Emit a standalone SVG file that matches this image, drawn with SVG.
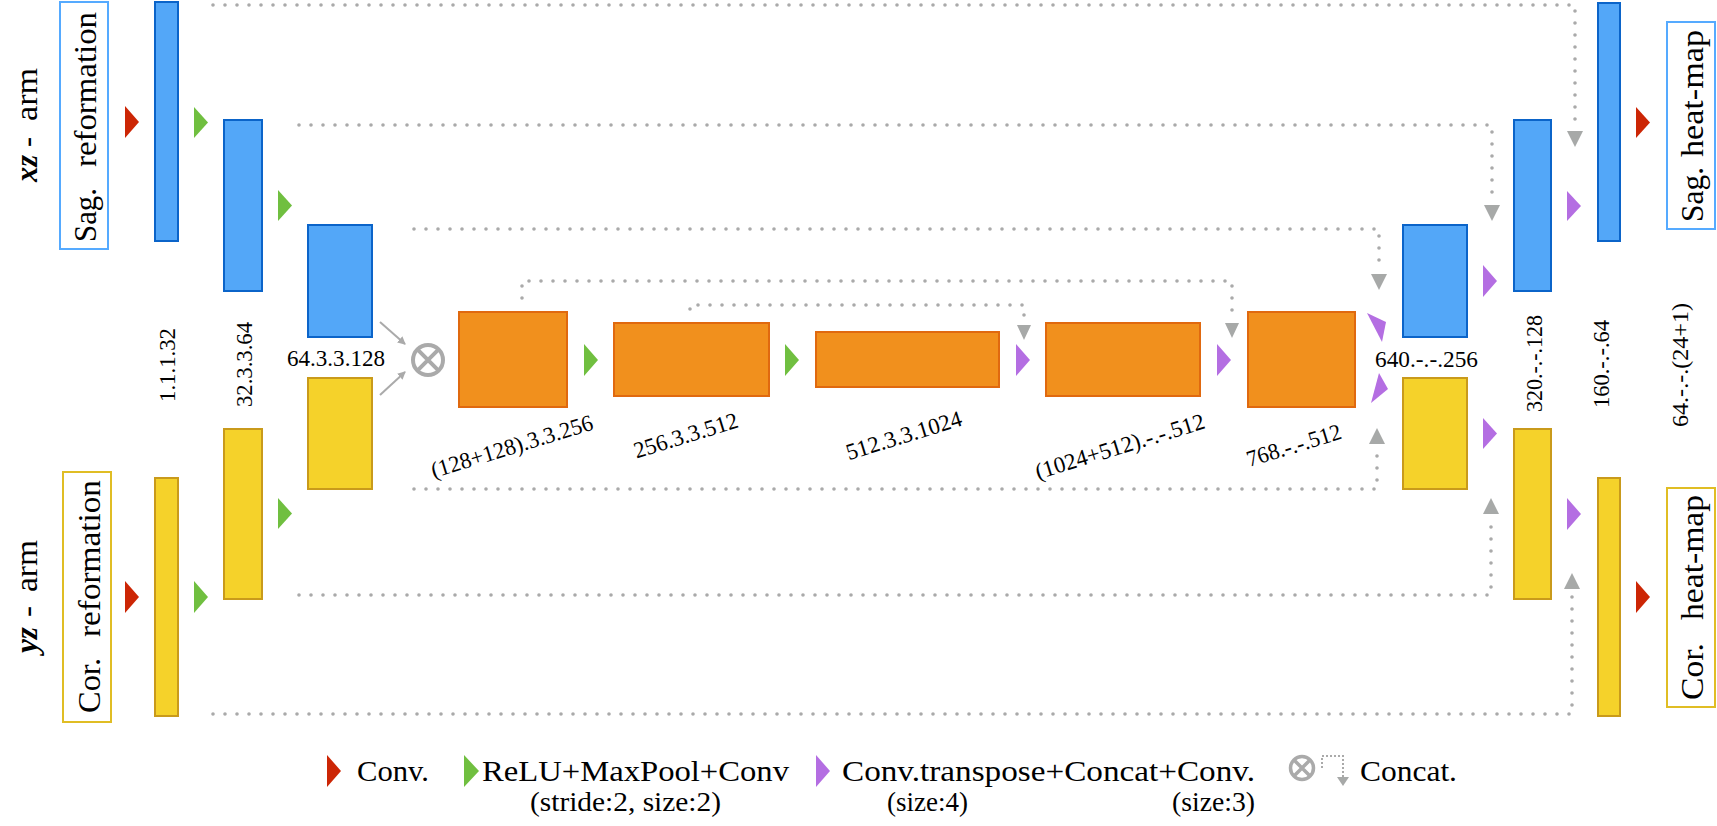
<svg xmlns="http://www.w3.org/2000/svg" width="1717" height="826" viewBox="0 0 1717 826">
<defs>
<style>
text{font-family:"Liberation Serif","DejaVu Serif",serif;fill:#000}
.sm{font-size:23px}
.lg{font-size:30.5px}
.lgd{font-size:30px}
.sub{font-size:27px}
.blue{fill:#53a7f8;stroke:#0b64c9;stroke-width:2}
.yel{fill:#f5d22a;stroke:#c99a1b;stroke-width:2}
.org{fill:#f1901d;stroke:#e0690f;stroke-width:2}
.red{fill:#cc2605}
.grn{fill:#70bf40}
.pur{fill:#b46ee2}
.dot{fill:none;stroke:#aaaaaa;stroke-width:3.6;stroke-linecap:round;stroke-dasharray:0 12}
.ah{fill:#a7a9a8}
.thin{fill:none;stroke:#aaaaaa;stroke-width:2}
</style>
<marker id="sa" markerWidth="8" markerHeight="8" refX="7" refY="4" orient="auto" markerUnits="userSpaceOnUse">
<path d="M0,0 L8,4 L0,8 z" fill="#aaaaaa"/>
</marker>
</defs>
<rect width="1717" height="826" fill="#fff"/>

<g id="connectors">
<path class="dot" d="M213,5 H1575 V127"/>
<polygon class="ah" points="1567,131 1583,131 1575,147"/>
<path class="dot" d="M299,125 H1492 V201"/>
<polygon class="ah" points="1484,205 1500,205 1492,221"/>
<path class="dot" d="M414,229 H1379 V270"/>
<polygon class="ah" points="1371,274 1387,274 1379,290"/>
<path class="dot" d="M522,298 V281 H1232 V318"/>
<polygon class="ah" points="1225,323 1239,323 1232,338"/>
<path class="dot" d="M690,309 V305 H1024 V321"/>
<polygon class="ah" points="1017,325 1031,325 1024,340"/>
<path class="dot" d="M414,489 H1377 V448"/>
<polygon class="ah" points="1369,444 1385,444 1377,428"/>
<path class="dot" d="M299,595 H1491 V518"/>
<polygon class="ah" points="1483,514 1499,514 1491,498"/>
<path class="dot" d="M213,714 H1572 V593"/>
<polygon class="ah" points="1564,589 1580,589 1572,573"/>
<line class="thin" x1="380" y1="322" x2="405" y2="344" marker-end="url(#sa)"/>
<line class="thin" x1="380" y1="395" x2="405" y2="372" marker-end="url(#sa)"/>
</g>

<g id="flow-arrows">
<polygon class="red" points="125,106 139,122 125,138"/>
<polygon class="grn" points="194,107 208,122.5 194,138"/>
<polygon class="grn" points="278,190 292,205.5 278,221"/>
<polygon class="red" points="125,581 139,597 125,613"/>
<polygon class="grn" points="194,581 208,597 194,613"/>
<polygon class="grn" points="278,498 292,513.5 278,529"/>
<polygon class="grn" points="584,344 598,360 584,376"/>
<polygon class="grn" points="785,344 799,360 785,376"/>
<polygon class="pur" points="1016,344 1030,360 1016,376"/>
<polygon class="pur" points="1217,344 1231,360 1217,376"/>
<polygon class="pur" points="1367,313 1386,322 1382,342"/>
<polygon class="pur" points="1371,403 1379,373 1388,389"/>
<polygon class="pur" points="1483,265 1497,281 1483,297"/>
<polygon class="pur" points="1567,191 1581,206 1567,221"/>
<polygon class="red" points="1636,107 1650,122.5 1636,138"/>
<polygon class="pur" points="1483,418 1497,433.5 1483,449"/>
<polygon class="pur" points="1567,498 1581,514 1567,530"/>
<polygon class="red" points="1636,581 1650,597 1636,613"/>
</g>

<g id="input-xz">
<rect x="60" y="2" width="48" height="247" fill="none" stroke="#55aaff" stroke-width="2"/>
<text class="lg" transform="translate(96,242) rotate(-90)" textLength="54" lengthAdjust="spacingAndGlyphs">Sag.</text>
<text class="lg" transform="translate(96,167) rotate(-90)" textLength="155" lengthAdjust="spacingAndGlyphs">reformation</text>
<text class="lg" transform="translate(37,182) rotate(-90)" textLength="27" lengthAdjust="spacingAndGlyphs" font-weight="bold" font-style="italic">xz</text>
<text class="lg" transform="translate(37,147) rotate(-90)" textLength="10" lengthAdjust="spacingAndGlyphs">-</text>
<text class="lg" transform="translate(37,121) rotate(-90)" textLength="53" lengthAdjust="spacingAndGlyphs">arm</text>
</g>

<g id="input-yz">
<rect x="63" y="472" width="48" height="250" fill="none" stroke="#e0bd24" stroke-width="2"/>
<text class="lg" transform="translate(100,713) rotate(-90)" textLength="55" lengthAdjust="spacingAndGlyphs">Cor.</text>
<text class="lg" transform="translate(100,637) rotate(-90)" textLength="157" lengthAdjust="spacingAndGlyphs">reformation</text>
<text class="lg" transform="translate(37,653) rotate(-90)" textLength="26" lengthAdjust="spacingAndGlyphs" font-weight="bold" font-style="italic">yz</text>
<text class="lg" transform="translate(37,617) rotate(-90)" textLength="11" lengthAdjust="spacingAndGlyphs">-</text>
<text class="lg" transform="translate(37,592) rotate(-90)" textLength="52" lengthAdjust="spacingAndGlyphs">arm</text>
</g>

<g id="enc-xz-1"><rect class="blue" x="155" y="2" width="23" height="239"/></g>
<g id="enc-xz-2"><rect class="blue" x="224" y="120" width="38" height="171"/></g>
<g id="enc-xz-3"><rect class="blue" x="308" y="225" width="64" height="112"/></g>
<g id="enc-yz-1"><rect class="yel" x="155" y="478" width="23" height="238"/></g>
<g id="enc-yz-2"><rect class="yel" x="224" y="429" width="38" height="170"/></g>
<g id="enc-yz-3"><rect class="yel" x="308" y="378" width="64" height="111"/></g>

<g id="enc-labels">
<text class="sm" transform="translate(175,402) rotate(-90)" textLength="74" lengthAdjust="spacingAndGlyphs">1.1.1.32</text>
<text class="sm" transform="translate(252,407) rotate(-90)" textLength="85" lengthAdjust="spacingAndGlyphs">32.3.3.64</text>
<text class="sm" x="287" y="366" textLength="98" lengthAdjust="spacingAndGlyphs">64.3.3.128</text>
</g>

<g id="concat-node">
<circle cx="428" cy="360" r="15" fill="none" stroke="#aaaaaa" stroke-width="4"/>
<path d="M417.4,349.4 L438.6,370.6 M438.6,349.4 L417.4,370.6" stroke="#aaaaaa" stroke-width="4" fill="none"/>
</g>

<g id="mid-1"><rect class="org" x="459" y="312" width="108" height="95"/>
<text class="sm" transform="translate(512,447) rotate(-17)" x="-84" y="7" textLength="168" lengthAdjust="spacingAndGlyphs">(128+128).3.3.256</text></g>
<g id="mid-2"><rect class="org" x="614" y="323" width="155" height="73"/>
<text class="sm" transform="translate(686,436) rotate(-17)" x="-54" y="7" textLength="108" lengthAdjust="spacingAndGlyphs">256.3.3.512</text></g>
<g id="mid-3"><rect class="org" x="816" y="332" width="183" height="55"/>
<text class="sm" transform="translate(904,436) rotate(-17)" x="-60" y="7" textLength="120" lengthAdjust="spacingAndGlyphs">512.3.3.1024</text></g>
<g id="mid-4"><rect class="org" x="1046" y="323" width="154" height="73"/>
<text class="sm" transform="translate(1120,447) rotate(-17)" x="-88" y="7" textLength="176" lengthAdjust="spacingAndGlyphs">(1024+512).-.-.512</text></g>
<g id="mid-5"><rect class="org" x="1248" y="312" width="107" height="95"/>
<text class="sm" transform="translate(1294,446) rotate(-17)" x="-49" y="7" textLength="98" lengthAdjust="spacingAndGlyphs">768.-.-.512</text></g>

<g id="dec-xz-3"><rect class="blue" x="1403" y="225" width="64" height="112"/></g>
<g id="dec-xz-2"><rect class="blue" x="1514" y="120" width="37" height="171"/></g>
<g id="dec-xz-1"><rect class="blue" x="1598" y="3" width="22" height="238"/></g>
<g id="dec-yz-3"><rect class="yel" x="1403" y="378" width="64" height="111"/></g>
<g id="dec-yz-2"><rect class="yel" x="1514" y="429" width="37" height="170"/></g>
<g id="dec-yz-1"><rect class="yel" x="1598" y="478" width="22" height="238"/></g>

<g id="dec-labels">
<text class="sm" x="1375" y="367" textLength="103" lengthAdjust="spacingAndGlyphs">640.-.-.256</text>
<text class="sm" transform="translate(1542,412) rotate(-90)" textLength="97" lengthAdjust="spacingAndGlyphs">320.-.-.128</text>
<text class="sm" transform="translate(1609,408) rotate(-90)" textLength="88" lengthAdjust="spacingAndGlyphs">160.-.-.64</text>
<text class="sm" transform="translate(1688,427) rotate(-90)" textLength="124" lengthAdjust="spacingAndGlyphs">64.-.-.(24+1)</text>
</g>

<g id="output-xz">
<rect x="1667" y="22" width="48" height="207" fill="none" stroke="#55aaff" stroke-width="2"/>
<text class="lg" transform="translate(1703,222) rotate(-90)" textLength="55" lengthAdjust="spacingAndGlyphs">Sag.</text>
<text class="lg" transform="translate(1703,157) rotate(-90)" textLength="127" lengthAdjust="spacingAndGlyphs">heat-map</text>
</g>
<g id="output-yz">
<rect x="1667" y="488" width="48" height="219" fill="none" stroke="#e0bd24" stroke-width="2"/>
<text class="lg" transform="translate(1703,700) rotate(-90)" textLength="57" lengthAdjust="spacingAndGlyphs">Cor.</text>
<text class="lg" transform="translate(1703,620) rotate(-90)" textLength="125" lengthAdjust="spacingAndGlyphs">heat-map</text>
</g>

<g id="legend">
<polygon class="red" points="327,755 341,771 327,787"/>
<text class="lgd" x="357" y="781" textLength="72" lengthAdjust="spacingAndGlyphs">Conv.</text>
<polygon class="grn" points="464,755 479,771 464,787"/>
<text class="lgd" x="482" y="781" textLength="307" lengthAdjust="spacingAndGlyphs">ReLU+MaxPool+Conv</text>
<text class="sub" x="530" y="811" textLength="191" lengthAdjust="spacingAndGlyphs">(stride:2, size:2)</text>
<polygon class="pur" points="816,755 830,771 816,787"/>
<text class="lgd" x="842" y="781" textLength="413" lengthAdjust="spacingAndGlyphs">Conv.transpose+Concat+Conv.</text>
<text class="sub" x="887" y="811" textLength="81" lengthAdjust="spacingAndGlyphs">(size:4)</text>
<text class="sub" x="1172" y="811" textLength="83" lengthAdjust="spacingAndGlyphs">(size:3)</text>
<circle cx="1302" cy="768" r="11.5" fill="none" stroke="#aaaaaa" stroke-width="3.5"/>
<path d="M1294,760 L1310,776 M1310,760 L1294,776" stroke="#aaaaaa" stroke-width="3.5" fill="none"/>
<path d="M1322,768 V756 H1343 V777" fill="none" stroke="#aaaaaa" stroke-width="2" stroke-dasharray="2 2"/>
<polygon class="ah" points="1337,777 1349,777 1343,786"/>
<text class="lgd" x="1360" y="781" textLength="97" lengthAdjust="spacingAndGlyphs">Concat.</text>
</g>
</svg>
